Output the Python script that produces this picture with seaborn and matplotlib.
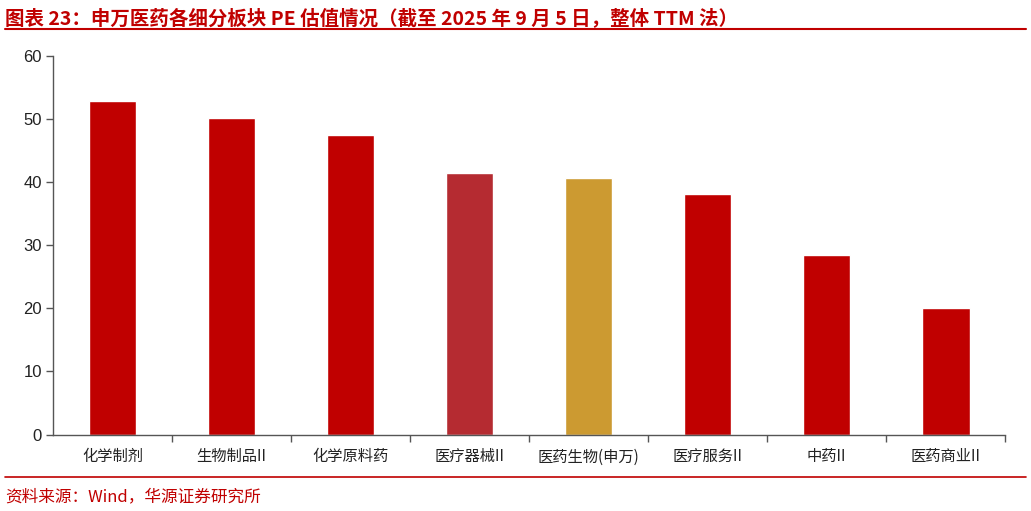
import matplotlib.pyplot as plt
import matplotlib.ticker as ticker
import pandas as pd
import seaborn as sns

categories = ["化学制剂", "生物制品II", "化学原料药", "医疗器械II", "医药生物(申万)",
              "医疗服务II", "中药II", "医药商业II"]
pe_values = [52.8, 50.1, 47.4, 41.4, 40.7, 38.1, 28.5, 20.0]
bar_colors = ["#C00000", "#C00000", "#C00000", "#B52B31", "#CC9A31",
              "#C00000", "#C00000", "#C00000"]
y_ticks = [0, 10, 20, 30, 40, 50, 60]

title_text = "图表 23：申万医药各细分板块 PE 估值情况（截至 2025 年 9 月 5 日，整体 TTM 法）"
source_text = "资料来源：Wind，华源证券研究所"


def main():
    sns.set_theme(style="white")
    plt.rcParams['font.family'] = ['Noto Sans CJK SC', 'DejaVu Sans']

    df = pd.DataFrame({"板块": categories, "PE": pe_values})

    fig = plt.figure(figsize=(10.31, 5.11), dpi=100)
    ax = fig.add_axes([0.0514, 0.1497, 0.9236, 0.7413])

    sns.barplot(data=df, x="板块", y="PE", hue="板块", palette=bar_colors,
                width=0.4, saturation=1, legend=False, ax=ax)

    ax.set_ylim(0, 60)
    ax.set_xlim(-0.5, len(categories) - 0.5)
    ax.set_yticks(y_ticks)
    ax.set_yticklabels([str(t) for t in y_ticks], family="Liberation Sans",
                       fontsize=12, color="#222222")
    ax.set_xticks(range(len(categories)))
    ax.set_xticklabels(categories, fontsize=11, color="#222222")
    ax.tick_params(axis="x", which="major", length=0, pad=10)
    ax.xaxis.set_minor_locator(ticker.FixedLocator(
        [i + 0.5 for i in range(len(categories))]))
    ax.tick_params(axis="x", which="minor", length=5, width=1, color="#555555",
                   direction="out", bottom=True)
    ax.tick_params(axis="y", length=5, width=1, color="#555555",
                   direction="out", left=True, pad=3)
    ax.set_xlabel("")
    ax.set_ylabel("")

    for side in ["top", "right"]:
        ax.spines[side].set_visible(False)
    for side in ["left", "bottom"]:
        ax.spines[side].set_color("#555555")
        ax.spines[side].set_linewidth(1)

    fig.text(0.005, 0.965, title_text, fontsize=14, fontweight="bold",
             color="#C00000", va="center", ha="left")
    fig.add_artist(plt.Line2D([0.005, 0.995], [0.943, 0.943],
                              color="#C00000", linewidth=1.5))
    fig.add_artist(plt.Line2D([0.005, 0.995], [0.066, 0.066],
                              color="#C00000", linewidth=1.2))
    fig.text(0.005, 0.028, source_text, fontsize=12, color="#C00000",
             va="center", ha="left")

    fig.savefig("out.png", dpi=100)


if __name__ == "__main__":
    main()
